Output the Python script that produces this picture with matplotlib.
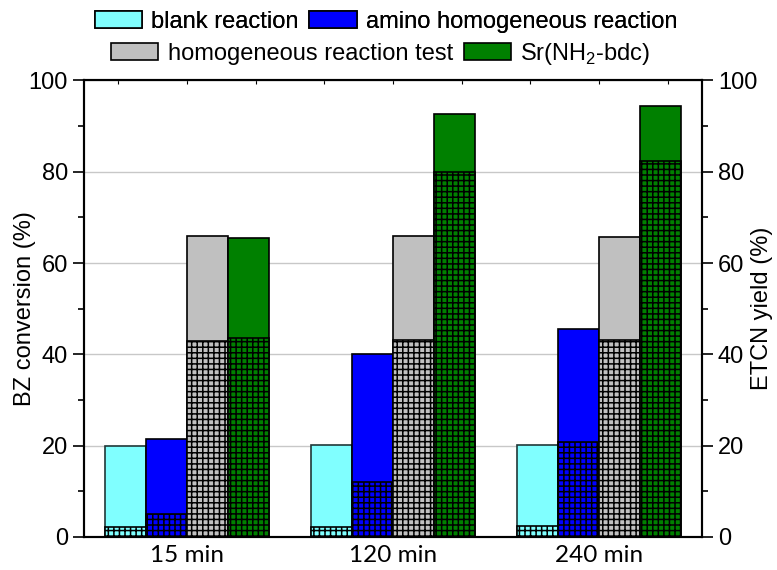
import numpy as np
import matplotlib
matplotlib.use("Agg")
import matplotlib.pyplot as plt
from matplotlib.patches import Patch
from matplotlib.ticker import MultipleLocator

plt.rcParams['font.family'] = ['Liberation Sans', 'DejaVu Sans']
plt.rcParams['mathtext.fontset'] = 'custom'
plt.rcParams['mathtext.rm'] = 'Liberation Sans'
plt.rcParams['hatch.linewidth'] = 1.1

# reaction times
times = ['15 min', '120 min', '240 min']

# BZ conversion (full bar) and ETCN yield (hatched part), in %
blank_conv = [19.9, 20.1, 20.2]
blank_yield = [2.2, 2.2, 2.4]
amino_conv = [21.5, 40.1, 45.6]
amino_yield = [5.0, 12.0, 20.7]
homo_conv = [65.9, 66.0, 65.8]
homo_yield = [43.0, 43.2, 43.2]
sr_conv = [65.4, 92.6, 94.5]
sr_yield = [43.7, 79.9, 82.4]

names = ['blank reaction', 'amino homogeneous reaction',
         'homogeneous reaction test', 'Sr(NH$_2$-bdc)']
colors = ['#80FFFF', '#0000FF', '#C0C0C0', '#008000']
edges = ['#203838', 'black', 'black', 'black']
conv = [blank_conv, amino_conv, homo_conv, sr_conv]
yld = [blank_yield, amino_yield, homo_yield, sr_yield]

fig = plt.figure(figsize=(7.77, 5.70), dpi=100)
ax = fig.add_axes([0.1081, 0.0579, 0.7954, 0.8009])

x = np.arange(len(times))
w = 0.2
for j in range(4):
    pos = x + (j - 1.5) * w
    ax.bar(pos, conv[j], w, color=colors[j], edgecolor=edges[j], linewidth=1.2, zorder=3)
    ax.bar(pos, yld[j], w, color=colors[j], edgecolor='black', linewidth=1.2,
           hatch='+++', zorder=4)

ax.set_xlim(-0.5, 2.5)
ax.set_ylim(0, 100)
ax.yaxis.set_major_locator(MultipleLocator(20))
ax.yaxis.set_minor_locator(MultipleLocator(10))
ax.grid(axis='y', color='#c8c8c8', linewidth=1.0, zorder=0)

ax.set_xticks(x)
ax.set_xticklabels(times, fontfamily='Lato', fontsize=17.5)
ax.xaxis.set_minor_locator(MultipleLocator(1 / 3))
ax.tick_params(axis='x', which='both', direction='in', length=3, width=0.8,
               top=True, pad=6)
ax.tick_params(axis='y', which='major', direction='out', length=8, width=1.2,
               labelsize=17)
ax.tick_params(axis='y', which='minor', direction='out', length=4, width=1.2)
ax.set_ylabel('BZ conversion (%)', fontsize=17)
ax.yaxis.set_label_coords(-0.078, 0.5)

ax2 = ax.twinx()
ax2.set_ylim(0, 100)
ax2.yaxis.set_major_locator(MultipleLocator(20))
ax2.yaxis.set_minor_locator(MultipleLocator(10))
ax2.tick_params(axis='y', which='major', direction='out', length=8, width=1.2,
                labelsize=17)
ax2.tick_params(axis='y', which='minor', direction='out', length=4, width=1.2)
ax2.set_ylabel('ETCN yield (%)', fontsize=17, rotation=90)
ax2.yaxis.set_label_coords(1.08, 0.5)

for a in (ax, ax2):
    for s in a.spines.values():
        s.set_linewidth(1.5)

handles = [Patch(facecolor=c, edgecolor='black', linewidth=1.2) for c in colors]
leg_kw = dict(ncol=2, loc='center', frameon=False, fontsize=17,
              handlelength=2.0, handleheight=0.75, handletextpad=0.4,
              columnspacing=0.45, borderpad=0, borderaxespad=0)
leg1 = fig.legend(handles[:2], names[:2], bbox_to_anchor=(0.497, 1 - 22 / 570), **leg_kw)
fig.add_artist(leg1)
fig.legend(handles[2:], names[2:], bbox_to_anchor=(0.49, 1 - 54 / 570), **leg_kw)

fig.savefig('out.png', dpi=100)
